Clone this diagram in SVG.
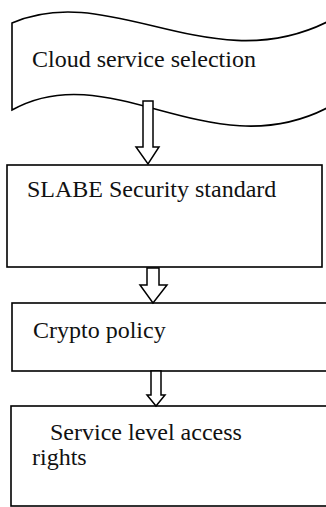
<svg xmlns="http://www.w3.org/2000/svg" width="326" height="507" viewBox="0 0 326 507">
<style>
.shape{fill:#fff;stroke:#000;stroke-width:1.6}
.arrow{fill:#fff;stroke:#000;stroke-width:1.5;stroke-linejoin:miter}
text{font-family:'Liberation Serif','Times New Roman',Times,'DejaVu Serif',serif;font-size:24px;fill:#111}
</style>
<rect width="326" height="507" fill="#fff"/>
<g id="node-cloud">
<path class="shape" d="M12,23 C110,-20 210,80 327,22 L327,108 C210,168 110,55 12,110 Z"/>
<text x="32" y="67" font-family="Liberation Serif, serif">Cloud service selection</text>
</g>
<g id="node-slabe">
<rect class="shape" x="7" y="165" width="315" height="102"/>
<text x="27" y="197" font-family="Liberation Serif, serif">SLABE Security standard</text>
</g>
<g id="node-crypto">
<rect class="shape" x="12" y="303" width="315" height="68"/>
<text x="33" y="338" font-family="Liberation Serif, serif">Crypto policy</text>
</g>
<g id="node-access">
<rect class="shape" x="11" y="406" width="316" height="100"/>
<text x="50" y="440" font-family="Liberation Serif, serif">Service level access</text>
<text x="32" y="465" font-family="Liberation Serif, serif">rights</text>
</g>
<g id="connectors">
<polygon class="arrow" points="143,101 153,101 153,147 159,147 148,164 136,147 143,147"/>
<polygon class="arrow" points="147,268 159,268 159,285 167,285 153,303 140,285 147,285"/>
<polygon class="arrow" points="151,371 161,371 161,395 165,395 156,406 147,395 151,395"/>
</g>
</svg>
